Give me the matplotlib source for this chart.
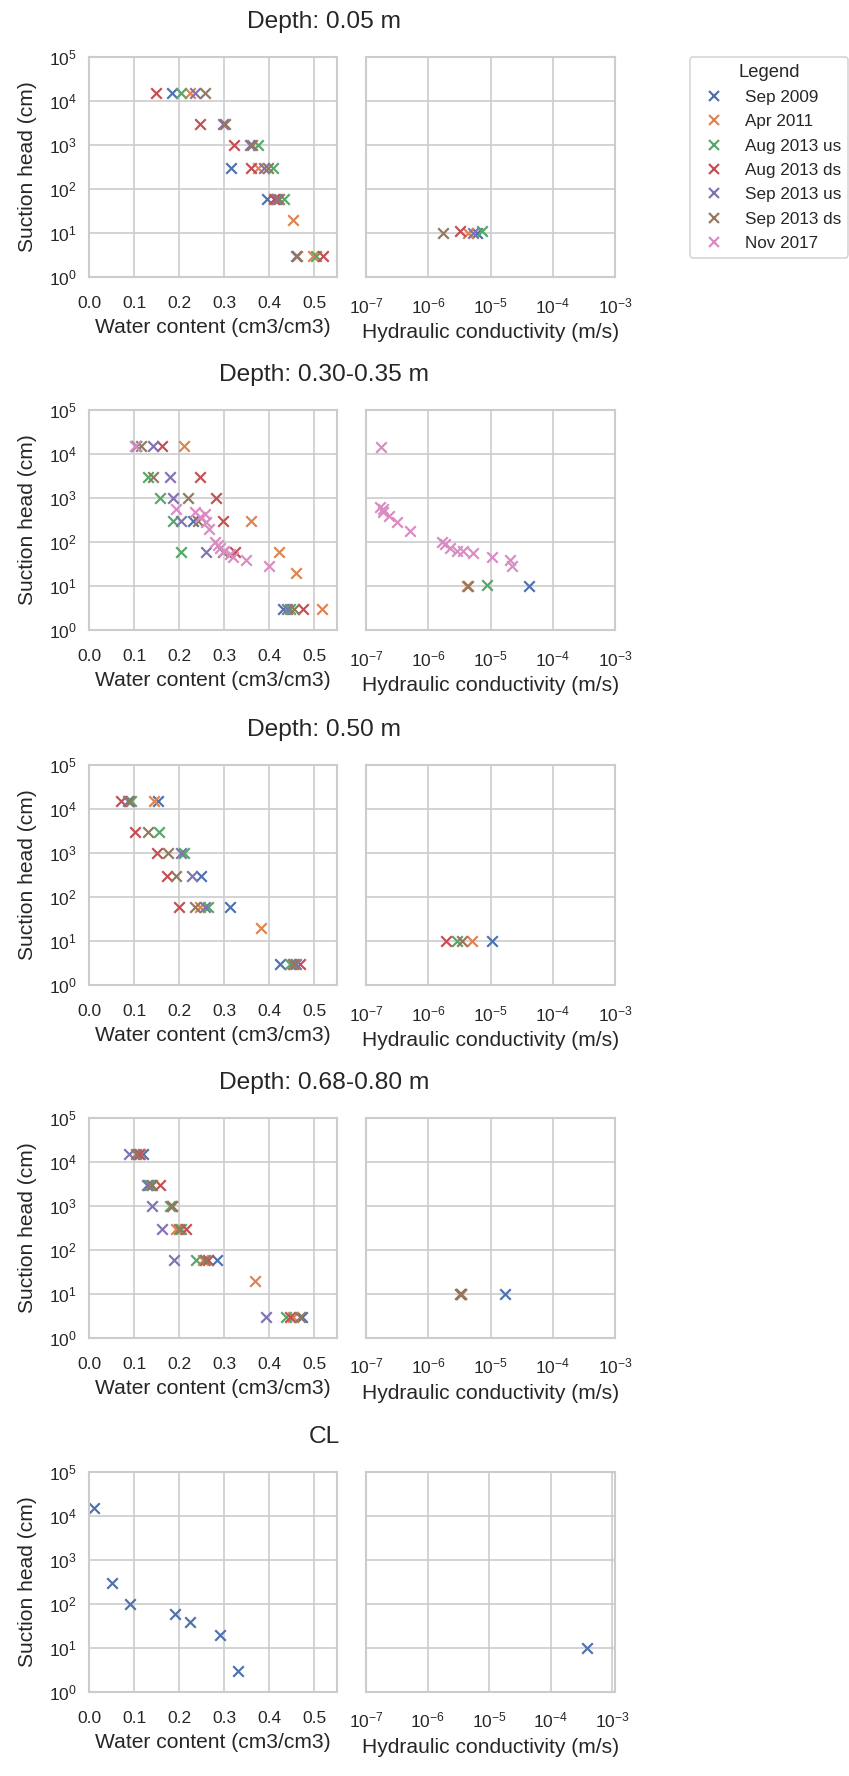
import numpy as np
import matplotlib.pyplot as plt
import seaborn as sns
from matplotlib.lines import Line2D
from matplotlib.ticker import NullLocator

sns.set_theme(style='whitegrid')
plt.rcParams['font.family'] = ['Liberation Sans', 'DejaVu Sans']

series = ['Sep 2009', 'Apr 2011', 'Aug 2013 us', 'Aug 2013 ds',
          'Sep 2013 us', 'Sep 2013 ds', 'Nov 2017']
titles = ['Depth: 0.05 m', 'Depth: 0.30-0.35 m', 'Depth: 0.50 m',
          'Depth: 0.68-0.80 m', 'CL']

# ---- retention data: water content (cm3/cm3) and suction head (cm)
theta_005 = {'Sep 2009': [0.185, 0.316, 0.395],
             'Apr 2011': [0.223, 0.375, 0.415, 0.452, 0.496],
             'Aug 2013 us': [0.205, 0.375, 0.409, 0.432, 0.503],
             'Aug 2013 ds': [0.148, 0.247, 0.321, 0.360, 0.410, 0.518],
             'Sep 2013 us': [0.235, 0.298, 0.356, 0.389, 0.418, 0.459],
             'Sep 2013 ds': [0.257, 0.301, 0.362, 0.397, 0.422, 0.462]}
head_005 = {'Sep 2009': [15000, 300, 60],
            'Apr 2011': [15000, 300, 60, 20, 3],
            'Aug 2013 us': [15000, 1000, 300, 60, 3],
            'Aug 2013 ds': [15000, 3000, 1000, 300, 60, 3],
            'Sep 2013 us': [15000, 3000, 1000, 300, 60, 3],
            'Sep 2013 ds': [15000, 3000, 1000, 300, 60, 3]}

theta_030 = {'Sep 2009': [0.105, 0.231, 0.430],
             'Apr 2011': [0.211, 0.360, 0.422, 0.458, 0.517],
             'Aug 2013 us': [0.105, 0.131, 0.157, 0.187, 0.205, 0.445],
             'Aug 2013 ds': [0.161, 0.246, 0.282, 0.297, 0.323, 0.474],
             'Sep 2013 us': [0.142, 0.179, 0.187, 0.205, 0.260, 0.440],
             'Sep 2013 ds': [0.115, 0.142, 0.220, 0.242, 0.297, 0.455],
             'Nov 2017': [0.102, 0.194, 0.235, 0.246, 0.257, 0.260, 0.266, 0.279,
                          0.286, 0.290, 0.300, 0.312, 0.319, 0.349, 0.400]}
head_030 = {'Sep 2009': [15000, 300, 3],
            'Apr 2011': [15000, 300, 60, 20, 3],
            'Aug 2013 us': [15000, 3000, 1000, 300, 60, 3],
            'Aug 2013 ds': [15000, 3000, 1000, 300, 60, 3],
            'Sep 2013 us': [15000, 3000, 1000, 300, 60, 3],
            'Sep 2013 ds': [15000, 3000, 1000, 300, 60, 3],
            'Nov 2017': [15000, 570, 475, 365, 435, 280, 200, 98,
                         87, 73, 61, 53, 45, 38, 29]}

theta_050 = {'Sep 2009': [0.153, 0.249, 0.312, 0.423],
             'Apr 2011': [0.144, 0.246, 0.382, 0.455],
             'Aug 2013 us': [0.094, 0.156, 0.211, 0.264, 0.445],
             'Aug 2013 ds': [0.072, 0.102, 0.150, 0.172, 0.199, 0.467],
             'Sep 2013 us': [0.087, 0.205, 0.229, 0.258, 0.460],
             'Sep 2013 ds': [0.088, 0.131, 0.175, 0.194, 0.235, 0.452]}
head_050 = {'Sep 2009': [15000, 300, 60, 3],
            'Apr 2011': [15000, 60, 20, 3],
            'Aug 2013 us': [15000, 3000, 1000, 60, 3],
            'Aug 2013 ds': [15000, 3000, 1000, 300, 60, 3],
            'Sep 2013 us': [15000, 1000, 300, 60, 3],
            'Sep 2013 ds': [15000, 3000, 1000, 300, 60, 3]}

theta_068 = {'Sep 2009': [0.119, 0.130, 0.284, 0.472],
             'Apr 2011': [0.113, 0.194, 0.252, 0.369, 0.452],
             'Aug 2013 us': [0.135, 0.180, 0.205, 0.238, 0.437],
             'Aug 2013 ds': [0.110, 0.157, 0.183, 0.215, 0.264, 0.445],
             'Sep 2013 us': [0.089, 0.128, 0.139, 0.161, 0.188, 0.393],
             'Sep 2013 ds': [0.105, 0.139, 0.183, 0.200, 0.258, 0.468]}
head_068 = {'Sep 2009': [15000, 3000, 60, 3],
            'Apr 2011': [15000, 300, 60, 20, 3],
            'Aug 2013 us': [3000, 1000, 300, 60, 3],
            'Aug 2013 ds': [15000, 3000, 1000, 300, 60, 3],
            'Sep 2013 us': [15000, 3000, 1000, 300, 60, 3],
            'Sep 2013 ds': [15000, 3000, 1000, 300, 60, 3]}

theta_cl = {'Sep 2009': [0.011, 0.052, 0.091, 0.190, 0.225, 0.291, 0.331]}
head_cl = {'Sep 2009': [15000, 300, 100, 60, 40, 20, 3]}

# ---- hydraulic conductivity (m/s) and suction head (cm)
k_005 = {'Sep 2009': [6.1e-6], 'Apr 2011': [4.4e-6], 'Aug 2013 us': [7.3e-6],
         'Aug 2013 ds': [3.2e-6], 'Sep 2013 us': [5.3e-6], 'Sep 2013 ds': [1.73e-6]}
kh_005 = {'Sep 2009': [10], 'Apr 2011': [10], 'Aug 2013 us': [11.2],
          'Aug 2013 ds': [11.2], 'Sep 2013 us': [10], 'Sep 2013 ds': [10]}

k_030 = {'Sep 2009': [4.2e-5], 'Apr 2011': [4.2e-6], 'Aug 2013 us': [8.8e-6],
         'Sep 2013 ds': [4.4e-6],
         'Nov 2017': [1.73e-7, 1.68e-7, 1.86e-7, 1.9e-7, 2.3e-7, 3.1e-7, 5.0e-7,
                      1.66e-6, 1.88e-6, 2.26e-6, 2.9e-6, 3.6e-6, 5.3e-6,
                      1.07e-5, 2.05e-5, 2.2e-5]}
kh_030 = {'Sep 2009': [10], 'Apr 2011': [10], 'Aug 2013 us': [10.5],
          'Sep 2013 ds': [10],
          'Nov 2017': [14100, 620, 570, 475, 400, 282, 182,
                       98, 91, 74, 63, 62, 55, 46, 38, 29]}

k_050 = {'Sep 2009': [1.07e-5], 'Apr 2011': [5.0e-6], 'Aug 2013 us': [2.9e-6],
         'Aug 2013 ds': [1.95e-6], 'Sep 2013 ds': [3.5e-6]}
kh_050 = {'Sep 2009': [10], 'Apr 2011': [10], 'Aug 2013 us': [10],
          'Aug 2013 ds': [10], 'Sep 2013 ds': [10]}

k_068 = {'Sep 2009': [1.68e-5], 'Apr 2011': [3.3e-6], 'Aug 2013 us': [3.4e-6],
         'Aug 2013 ds': [3.2e-6], 'Sep 2013 ds': [3.3e-6]}
kh_068 = {'Sep 2009': [10], 'Apr 2011': [10], 'Aug 2013 us': [10],
          'Aug 2013 ds': [10], 'Sep 2013 ds': [10]}

k_cl = {'Sep 2009': [3.8e-4]}
kh_cl = {'Sep 2009': [10]}

rows = [(theta_005, head_005, k_005, kh_005),
        (theta_030, head_030, k_030, kh_030),
        (theta_050, head_050, k_050, kh_050),
        (theta_068, head_068, k_068, kh_068),
        (theta_cl, head_cl, k_cl, kh_cl)]

colors = sns.color_palette('deep', len(series))

W, H = 849, 1776
fig = plt.figure(figsize=(W / 120, H / 120), dpi=120)

TICK_FS = 10.4
LABEL_FS = 12.6
TITLE_FS = 14.7


def add_ax(x0, y0, w, h):
    return fig.add_axes([x0 / W, 1 - (y0 + h) / H, w / W, h / H])


def style_y(ax):
    ax.set_yscale('log')
    ax.set_ylim(1, 1e5)
    ax.set_yticks([1, 10, 100, 1e3, 1e4, 1e5])
    ax.yaxis.set_minor_locator(NullLocator())
    ax.tick_params(axis='y', length=0, pad=7.2, labelsize=TICK_FS)
    ax.tick_params(axis='x', length=0, pad=11.4, labelsize=TICK_FS)


tops = [57, 410, 765, 1118, 1472]
for i, (theta, head, kk, kh) in enumerate(rows):
    top = tops[i]
    axL = add_ax(89, top, 248, 220)
    axR = add_ax(366, top, 249, 220)

    for name, c in zip(series, colors):
        if name in theta:
            axL.scatter(theta[name], head[name], marker='x', color=c, s=40, linewidths=1.3)
        if name in kk:
            axR.scatter(kk[name], kh[name], marker='x', color=c, s=40, linewidths=1.3)

    style_y(axL)
    axL.set_xlim(0, 0.55)
    axL.set_xticks([0.0, 0.1, 0.2, 0.3, 0.4, 0.5])
    axL.set_xlabel('Water content (cm3/cm3)', fontsize=LABEL_FS)
    axL.set_ylabel('Suction head (cm)', fontsize=LABEL_FS, labelpad=7)

    style_y(axR)
    axR.tick_params(axis='y', labelleft=False)
    axR.set_xscale('log')
    if i == 4:
        axR.set_xlim(1e-7, 1.1e-3)
    else:
        axR.set_xlim(1e-7, 1e-3)
    axR.set_xticks([1e-7, 1e-6, 1e-5, 1e-4, 1e-3])
    axR.xaxis.set_minor_locator(NullLocator())
    axR.set_xlabel('Hydraulic conductivity (m/s)', fontsize=LABEL_FS)

    fig.text(324 / W, 1 - (top - 35) / H, titles[i], ha='center', va='center',
             fontsize=TITLE_FS, color='0.15')

handles = [Line2D([], [], marker='x', ls='none', color=c, markersize=6, mew=1.3)
           for c in colors]
fig.legend(handles, series, title='Legend', loc='upper left',
           bbox_to_anchor=(690 / W, 1 - 57 / H), fontsize=10.3, title_fontsize=11,
           labelspacing=0.54, borderaxespad=0)

fig.savefig('out.png', dpi=120)
